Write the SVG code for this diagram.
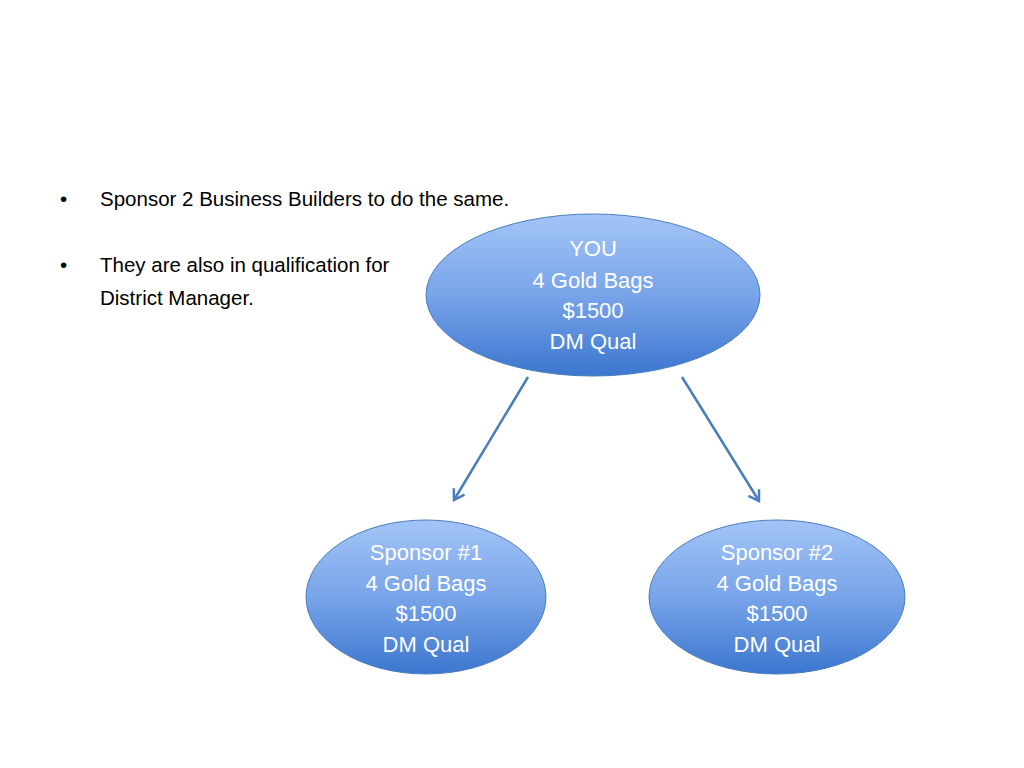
<svg xmlns="http://www.w3.org/2000/svg" width="1024" height="768" viewBox="0 0 1024 768">
<style>
.body{font-family:"Liberation Sans",Arial,sans-serif;font-size:20.5px;fill:#000}
.lbl{font-family:"Liberation Sans",Arial,sans-serif;font-size:22px;fill:#fff;text-anchor:middle}
.node{fill:url(#g);stroke:#4a7ebb;stroke-width:1}
.conn{stroke:#4a7ebb;stroke-width:2.5;fill:none;marker-end:url(#arr)}
</style>
<defs>
<linearGradient id="g" x1="0" y1="0" x2="0" y2="1">
<stop offset="0" stop-color="#a3c4f7"/>
<stop offset="0.5" stop-color="#78a4e9"/>
<stop offset="1" stop-color="#3b76cf"/>
</linearGradient>
<marker id="arr" viewBox="0 0 12 12" refX="10" refY="6" markerWidth="6" markerHeight="6" orient="auto" markerUnits="strokeWidth">
<polyline points="2,1 10,6 2,11" fill="none" stroke="#4a7ebb" stroke-width="2"/>
</marker>
</defs>
<rect width="1024" height="768" fill="#fff"/>
<g id="bullets">
<text class="body" x="60" y="206">•</text>
<text class="body" x="100" y="206">Sponsor 2 Business Builders to do the same.</text>
<text class="body" x="60" y="272">•</text>
<text class="body" x="100" y="272">They are also in qualification for</text>
<text class="body" x="100" y="305">District Manager.</text>
</g>
<g id="connectors">
<line class="conn" x1="528" y1="377" x2="454" y2="500"/>
<line class="conn" x1="682" y1="377" x2="759" y2="501"/>
</g>
<g id="you">
<ellipse class="node" cx="593" cy="295" rx="167" ry="81"/>
<text class="lbl" x="593" y="256">YOU</text>
<text class="lbl" x="593" y="288">4 Gold Bags</text>
<text class="lbl" x="593" y="318">$1500</text>
<text class="lbl" x="593" y="349">DM Qual</text>
</g>
<g id="sponsor1">
<ellipse class="node" cx="426" cy="597" rx="120" ry="77"/>
<text class="lbl" x="426" y="560">Sponsor #1</text>
<text class="lbl" x="426" y="591">4 Gold Bags</text>
<text class="lbl" x="426" y="621">$1500</text>
<text class="lbl" x="426" y="652">DM Qual</text>
</g>
<g id="sponsor2">
<ellipse class="node" cx="777" cy="597" rx="128" ry="77"/>
<text class="lbl" x="777" y="560">Sponsor #2</text>
<text class="lbl" x="777" y="591">4 Gold Bags</text>
<text class="lbl" x="777" y="621">$1500</text>
<text class="lbl" x="777" y="652">DM Qual</text>
</g>
</svg>
